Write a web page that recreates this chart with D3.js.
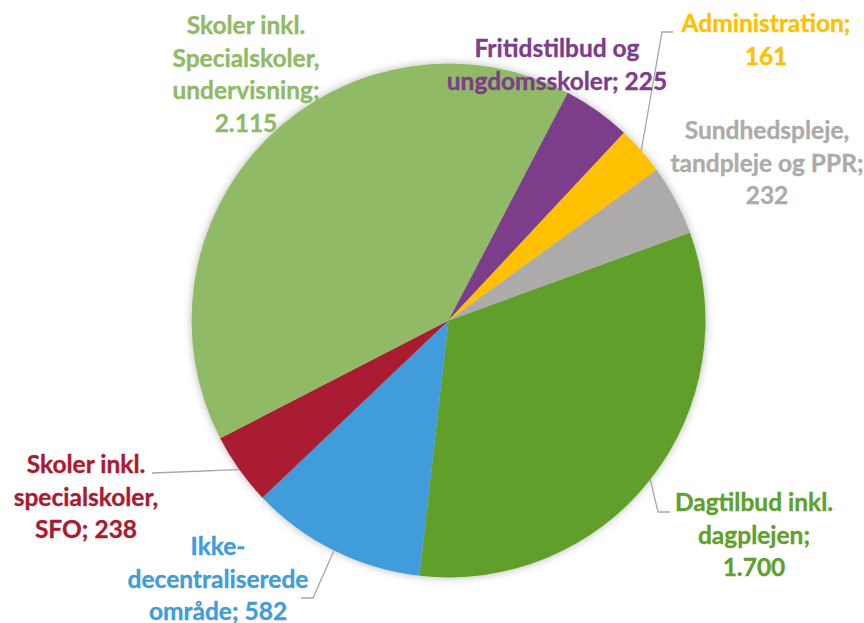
<!DOCTYPE html>
<html>
<head>
<meta charset="utf-8">
<script src="https://cdn.jsdelivr.net/npm/d3@7/dist/d3.min.js"></script>
<style>
  html, body { margin: 0; padding: 0; background: #ffffff; }
  svg { display: block; }
  text { font-family: "Lato", "Open Sans", sans-serif; font-weight: 700; }
</style>
</head>
<body>
<svg id="chart" width="864" height="623"></svg>
<script>
// ---- data ----
const categories = [
  "Dagtilbud inkl. dagplejen",
  "Ikke-decentraliserede område",
  "Skoler inkl. specialskoler, SFO",
  "Skoler inkl. Specialskoler, undervisning",
  "Fritidstilbud og ungdomsskoler",
  "Administration",
  "Sundhedspleje, tandpleje og PPR"
];
const values = [1700, 582, 238, 2115, 225, 161, 232];
// label lines (name wrapped as in the reference; value appended)
const labelLines = [
  ["Dagtilbud inkl.", "dagplejen;"],
  ["Ikke-", "decentraliserede", "område;"],
  ["Skoler inkl.", "specialskoler,", "SFO;"],
  ["Skoler inkl.", "Specialskoler,", "undervisning;"],
  ["Fritidstilbud og", "ungdomsskoler;"],
  ["Administration;"],
  ["Sundhedspleje,", "tandpleje og PPR;"]
];
// value on the same line as the last name line (true) or on a new line (false)
const valueInline = [false, true, true, false, true, false, false];
const colors = ["#60A02C", "#419CDA", "#A91B30", "#90BA66", "#7C3D8A", "#FFC000", "#ADABAA"];

// ---- layout ----
const W = 864, H = 623;
const cx = 448.5, cy = 320.5, R = 257;
const firstSliceAngle = 70; // degrees
const lineH = 32.5;
// label block: centre x, first baseline y (page coords)
const labelLayout = [
  {x: 754, y: 511, leader: [[670, 512], [658, 512]]},
  {x: 218, y: 555, leader: [[301, 598], [313, 598]]},
  {x: 86,  y: 473, leader: [[152, 473]]},
  {x: 246, y: 34,  leader: null},
  {x: 557, y: 57,  leader: null},
  {x: 766, y: 32,  leader: [[673, 32], [662, 32]]},
  {x: 767, y: 139, leader: null}
];

const fmt = d3.formatLocale({decimal: ",", thousands: ".", grouping: [3], currency: ["", " kr."]}).format(",d");

const data = categories.map((c, i) => ({name: c, value: values[i], color: colors[i], i}));

const svg = d3.select("#chart");
const defs = svg.append("defs");
const f = defs.append("filter").attr("id", "shadow").attr("x", "-20%").attr("y", "-20%").attr("width", "140%").attr("height", "140%");
f.append("feDropShadow").attr("dx", 0).attr("dy", 0).attr("stdDeviation", 4).attr("flood-color", "#000").attr("flood-opacity", 0.28);

const toRad = d => d * Math.PI / 180;
const pie = d3.pie().sort(null).value(d => d.value)
  .startAngle(toRad(firstSliceAngle)).endAngle(toRad(firstSliceAngle + 360));
const arcs = pie(data);
const arc = d3.arc().innerRadius(0).outerRadius(R);

const g = svg.append("g").attr("transform", `translate(${cx},${cy})`);
const sliceG = g.append("g").attr("filter", "url(#shadow)");
sliceG.selectAll("path").data(arcs).join("path")
  .attr("d", arc)
  .attr("fill", d => d.data.color);

// leader lines
const edgePoint = a => {
  const m = (a.startAngle + a.endAngle) / 2;
  return [cx + R * Math.sin(m), cy - R * Math.cos(m)];
};
arcs.forEach((a, i) => {
  const L = labelLayout[i];
  if (!L.leader) return;
  const pts = L.leader.concat([edgePoint(a)]);
  svg.append("path")
    .attr("d", d3.line()(pts))
    .attr("fill", "none")
    .attr("stroke", "#A6A6A6")
    .attr("stroke-width", 1.3);
});

// labels
arcs.forEach((a, i) => {
  const L = labelLayout[i];
  const lines = labelLines[i].slice();
  const v = fmt(a.data.value);
  if (valueInline[i]) lines[lines.length - 1] = lines[lines.length - 1] + " " + v;
  else lines.push(v);
  const t = svg.append("text")
    .attr("text-anchor", "middle")
    .attr("fill", a.data.color)
    .attr("stroke", a.data.color)
    .attr("stroke-width", 0.35)
    .attr("font-size", 24.5);
  lines.forEach((ln, k) => {
    t.append("tspan").attr("x", L.x).attr("y", L.y + k * lineH).text(ln);
  });
});
</script>
</body>
</html>
